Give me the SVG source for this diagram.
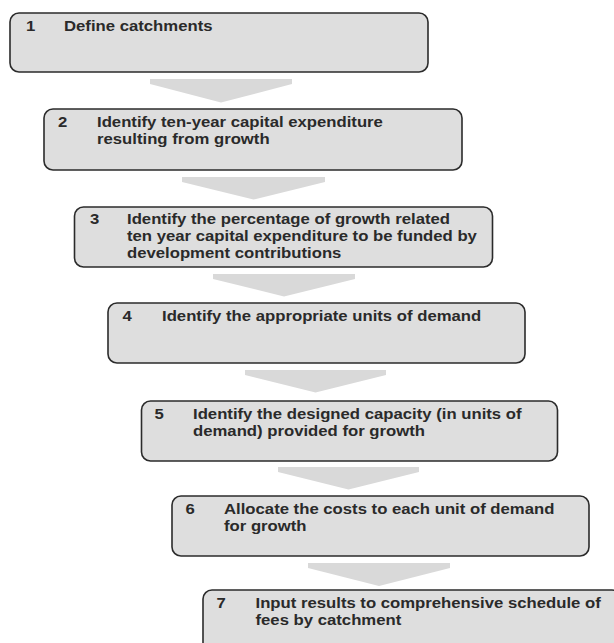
<svg xmlns="http://www.w3.org/2000/svg" width="614" height="643" viewBox="0 0 614 643">
<style>
.box{fill:#dedede;stroke:#2b2b2b;stroke-width:1.6}
.arr{fill:#d9d9d9}
text{font-family:"Liberation Sans",Arial,sans-serif;font-weight:bold;font-size:15.2px;fill:#2a2a2a}
</style>
<rect width="614" height="643" fill="#ffffff"/>
<g id="connectors">
<polygon class="arr" points="150,79 292,79 292,84 221,102.5 150,84"/>
<polygon class="arr" points="182,177 325,177 325,182 253.5,199.5 182,182"/>
<polygon class="arr" points="213,274 355,274 355,279 284,296.5 213,279"/>
<polygon class="arr" points="245,370 386,370 386,375 315.5,392.5 245,375"/>
<polygon class="arr" points="278,467 419,467 419,472 348.5,489.5 278,472"/>
<polygon class="arr" points="308,563 450,563 450,568 379,586 308,568"/>
</g>
<g id="step1">
<rect class="box" x="10" y="13" width="418" height="59" rx="9"/>
<g transform="translate(64,31) scale(1.099,1)">
<text x="-34.5" y="0">1</text>
<text x="0" y="0">Define catchments</text>
</g>
</g>
<g id="step2">
<rect class="box" x="44" y="109" width="418" height="61" rx="9"/>
<g transform="translate(97,127) scale(1.099,1)">
<text x="-35.5" y="0">2</text>
<text x="0" y="0">Identify ten-year capital expenditure</text>
<text x="0" y="17">resulting from growth</text>
</g>
</g>
<g id="step3">
<rect class="box" x="74.5" y="207" width="418" height="60" rx="9"/>
<g transform="translate(127,224) scale(1.099,1)">
<text x="-33.6" y="0">3</text>
<text x="0" y="0">Identify the percentage of growth related</text>
<text x="0" y="17">ten year capital expenditure to be funded by</text>
<text x="0" y="34">development contributions</text>
</g>
</g>
<g id="step4">
<rect class="box" x="108" y="303" width="417" height="60" rx="9"/>
<g transform="translate(162,321) scale(1.099,1)">
<text x="-35.9" y="0">4</text>
<text x="0" y="0">Identify the appropriate units of demand</text>
</g>
</g>
<g id="step5">
<rect class="box" x="141.5" y="401" width="416" height="60" rx="9"/>
<g transform="translate(193,419) scale(1.099,1)">
<text x="-35" y="0">5</text>
<text x="0" y="0">Identify the designed capacity (in units of</text>
<text x="0" y="17">demand) provided for growth</text>
</g>
</g>
<g id="step6">
<rect class="box" x="172" y="496" width="417" height="60" rx="9"/>
<g transform="translate(224,514) scale(1.099,1)">
<text x="-35" y="0">6</text>
<text x="0" y="0">Allocate the costs to each unit of demand</text>
<text x="0" y="17">for growth</text>
</g>
</g>
<g id="step7">
<rect class="box" x="203" y="590" width="418" height="62" rx="9"/>
<g transform="translate(255.5,608) scale(1.099,1)">
<text x="-35.5" y="0">7</text>
<text x="0" y="0">Input results to comprehensive schedule of</text>
<text x="0" y="17">fees by catchment</text>
</g>
</g>
</svg>
